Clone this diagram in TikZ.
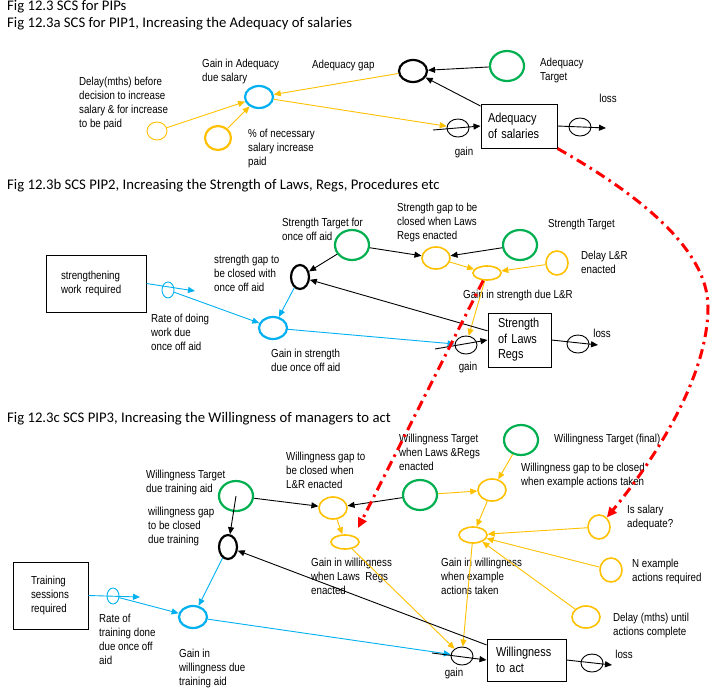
\documentclass[tikz,border=0pt]{standalone}
\usepackage{fontspec}
\setmainfont{Liberation Sans}
\newfontfamily\carlito{Carlito}
\newfontfamily\narrow[FakeStretch=0.84]{Liberation Sans}
\usetikzlibrary{shapes.geometric,arrows.meta}
\definecolor{cy}{HTML}{FFC000}
\definecolor{cb}{HTML}{00B0F0}
\definecolor{cg}{HTML}{00B050}
\definecolor{cr}{HTML}{FF0000}
\begin{document}
\begin{tikzpicture}[x=1pt,y=-1pt,
 lbl/.style={font=\narrow\fontsize{11.6}{14}\selectfont, align=left, anchor=north west, inner sep=0pt},
 sml/.style={font=\narrow\fontsize{11.6}{14}\selectfont, inner sep=0pt},
 ttl/.style={font=\carlito\fontsize{14.7}{16}\selectfont, anchor=base west, inner sep=0pt},
 boxs/.style={draw, line width=1pt, align=left, inner ysep=0pt},
 bigtxt/.style={font=\narrow\fontsize{13}{15.5}\selectfont},
 smtxt/.style={font=\narrow\fontsize{11.6}{14}\selectfont},
 ov/.style 2 args={ellipse, inner sep=0pt, minimum width=#1, minimum height=#2},
 thk/.style={draw, line width=2.2pt},
 med/.style={draw, line width=1.6pt},
 thn/.style={draw, line width=0.9pt},
 arr/.style={line width=0.9pt, -{Triangle[length=7pt,width=6pt]}},
 yarr/.style={arr, draw=cy},
 barr/.style={arr, draw=cb},
 redlink/.style={draw=cr, line width=3pt, dash pattern=on 10pt off 5pt on 2.5pt off 5pt, -{Triangle[length=10pt,width=9pt]}}
]
\useasboundingbox (0,0) rectangle (715,696);

% ---------- titles
\node[ttl] (t0) at (7,10.5) {Fig 12.3 SCS for PIPs};
\node[ttl] (t1) at (7,27.5) {Fig 12.3a SCS for PIP1, Increasing the Adequacy of salaries};
\node[ttl] (t2) at (7,189) {Fig 12.3b SCS PIP2, Increasing the Strength of Laws, Regs, Procedures etc};
\node[ttl] (t3) at (7,422.5) {Fig 12.3c SCS PIP3, Increasing the Willingness of managers to act};

% ---------- section a
\node[ov={20pt}{18pt}, thn, draw=cy] (delayA) at (157,131) {};
\node[ov={26pt}{24pt}, thk, draw=cy] (pctA) at (218,138) {};
\node[ov={28pt}{22pt}, thk, draw=cb] (gainA) at (259,97) {};
\node[ov={28pt}{22pt}, thk, draw=black] (gapA) at (413,71) {};
\node[ov={34pt}{30pt}, thk, draw=cg] (tgtA) at (507,66) {};
\node[boxs, bigtxt, minimum width=76pt, minimum height=44pt, text width=62pt, inner xsep=7pt] (boxA) at (519,126) {Adequacy\\of salaries};
\node[ov={22pt}{18pt}, thn] (gainFA) at (458,128) {};
\node[ov={22pt}{18pt}, thn] (lossFA) at (580,127) {};
\coordinate (ga0) at (433,130);
\coordinate (la1) at (606,128);

\node[lbl] (lDelayA) at (79,77) {Delay(mths) before\\decision to increase\\salary \& for increase\\to be paid};
\node[lbl] (lGainA) at (202,59) {Gain in Adequacy\\due salary};
\node[lbl] (lPct) at (248,129) {\% of necessary\\salary increase\\paid};
\node[lbl] (lGapA) at (312,60) {Adequacy gap};
\node[lbl] (lTgtA) at (540,58) {Adequacy\\Target};
\node[sml] (lgA) at (464,152) {gain};
\node[sml] (llA) at (608,98) {loss};

\draw[arr] (tgtA) -- (gapA);
\draw[arr] (boxA) -- (gapA);
\draw[yarr] (gapA) -- (gainA);
\draw[yarr] (gainA) -- (gainFA);
\draw[yarr] (delayA) -- (gainA);
\draw[yarr] (pctA) -- (gainA);
\draw[arr] (ga0) -- (boxA.west);
\draw[arr] (boxA.east) -- (la1);

% ---------- section b
\node[boxs, smtxt, minimum width=100pt, minimum height=57pt, text width=70pt, inner xsep=15pt] (sbox) at (96,283.5) {strengthening\\work required};
\node[ov={12pt}{16pt}, thn, draw=cb] (rateB) at (168,290) {};
\node[ov={28pt}{22pt}, thk, draw=cb] (gainB1) at (273,328) {};
\node[ov={18pt}{24pt}, thk, draw=black] (gapB1) at (300,277) {};
\node[ov={34pt}{30pt}, thk, draw=cg] (tgtB1) at (352,245) {};
\node[ov={28pt}{22pt}, med, draw=cy] (gapB2) at (436,258) {};
\node[ov={34pt}{30pt}, thk, draw=cg] (tgtB2) at (520,245) {};
\node[ov={28pt}{14pt}, med, draw=cy] (gainB2) at (487,273) {};
\node[ov={22pt}{24pt}, med, draw=cy] (delayB) at (557,263) {};
\node[boxs, bigtxt, minimum width=63pt, minimum height=54pt, text width=43pt, inner xsep=10pt] (boxB) at (519.5,340) {Strength\\of Laws\\Regs};
\node[ov={22pt}{18pt}, thn] (gainFB) at (466,345) {};
\node[ov={22pt}{18pt}, thn] (lossFB) at (578,344) {};
\coordinate (rb1) at (195,291);
\coordinate (gb0) at (435,349);
\coordinate (lb1) at (598,345);

\node[lbl] (lRateB) at (151,314) {Rate of doing\\work due\\once off aid};
\node[lbl] (lGainB1) at (271,349) {Gain in strength\\due once off aid};
\node[lbl] (lGapB1) at (214,255) {strength gap to\\be closed with\\once off aid};
\node[lbl] (lTgtB1) at (282,218) {Strength Target for\\once off aid};
\node[lbl] (lGapB2) at (397,203) {Strength gap to be\\closed when Laws\\Regs enacted};
\node[lbl] (lTgtB2) at (548,219) {Strength Target};
\node[lbl] (lGainB2) at (463,290) {Gain in strength due L\&R};
\node[lbl] (lDelayB) at (581,251) {Delay L\&R\\enacted};
\node[sml] (lgB) at (468,367) {gain};
\node[sml] (llB) at (602,333) {loss};

\draw[barr] (sbox.east) -- (rb1);
\draw[barr] (rateB) -- (gainB1);
\draw[barr] (gapB1) -- (gainB1);
\draw[arr] (tgtB1) -- (gapB1);
\draw[arr] (tgtB1) -- (gapB2);
\draw[arr] (tgtB2) -- (gapB2);
\draw[yarr] (gapB2) -- (gainB2);
\draw[yarr] (delayB) -- (gainB2);
\draw[yarr] (gainB2) -- (gainFB);
\draw[arr] (boxB) -- (gapB1);
\draw[barr] (gainB1) -- (gainFB);
\draw[arr] (gb0) -- (boxB.west);
\draw[arr] (boxB.east) -- (lb1);

% ---------- section c
\node[boxs, smtxt, minimum width=75pt, minimum height=67pt, text width=39pt, inner xsep=18pt] (tbox) at (50.5,595.5) {Training\\sessions\\required};
\node[ov={12pt}{16pt}, thn, draw=cb] (rateC) at (113,596) {};
\node[ov={28pt}{22pt}, thk, draw=cb] (gainC1) at (193,617) {};
\node[ov={18pt}{24pt}, thk, draw=black] (gapC1) at (228,547) {};
\node[ov={34pt}{30pt}, thk, draw=cg] (tgtC1) at (236,496) {};
\node[ov={28pt}{22pt}, med, draw=cy] (gapC2) at (333,508) {};
\node[ov={34pt}{30pt}, thk, draw=cg] (tgtC2) at (420,495) {};
\node[ov={28pt}{14pt}, med, draw=cy] (gainC2) at (345,542) {};
\node[ov={34pt}{30pt}, thk, draw=cg] (tgtC3) at (521,440) {};
\node[ov={28pt}{22pt}, med, draw=cy] (gapC3) at (492,490) {};
\node[ov={28pt}{16pt}, med, draw=cy] (gainC3) at (473,535) {};
\node[ov={22pt}{24pt}, med, draw=cy] (isSal) at (599,527) {};
\node[ov={22pt}{24pt}, med, draw=cy] (nEx) at (611,570) {};
\node[ov={28pt}{22pt}, med, draw=cy] (delC) at (586,617) {};
\node[boxs, bigtxt, minimum width=79pt, minimum height=42pt, text width=61pt, inner xsep=9pt] (boxC) at (526.5,660) {Willingness\\to act};
\node[ov={22pt}{18pt}, thn] (gainFC) at (462,656) {};
\node[ov={22pt}{18pt}, thn] (lossFC) at (592,663) {};
\coordinate (rc1) at (140,597);
\coordinate (gc0) at (432,653);
\coordinate (lc1) at (612,665);

\node[lbl] (lRateC) at (99,614) {Rate of\\training done\\due once off\\aid};
\node[lbl] (lGainC1) at (179,649) {Gain in\\willingness due\\training aid};
\node[lbl] (lGapC1) at (148,507) {willingness gap\\to be closed\\due training};
\node[lbl] (lTgtC1) at (146,470) {Willingness Target\\due training aid};
\node[lbl] (lGapC2) at (286,452) {Willingness gap to\\be closed when\\L\&R enacted};
\node[lbl] (lTgtC2) at (399,434) {Willingness Target\\when Laws \&Regs\\enacted};
\node[lbl] (lGainC2) at (311,558) {Gain in willingness\\when Laws\ \ Regs\\enacted};
\node[lbl] (lTgtC3) at (554,434) {Willingness Target (final)};
\node[lbl] (lGapC3) at (521,463) {Willingness gap to be closed\\when example actions taken};
\node[lbl] (lGainC3) at (441,558) {Gain in willingness\\when example\\actions taken};
\node[lbl] (lIsSal) at (627,505) {Is salary\\adequate?};
\node[lbl] (lNex) at (632,559) {N example\\actions required};
\node[lbl] (lDelC) at (613,613) {Delay (mths) until\\actions complete};
\node[sml] (lgC) at (454,673) {gain};
\node[sml] (llC) at (624,654) {loss};

\draw[barr] (tbox.east) -- (rc1);
\draw[barr] (rateC) -- (gainC1);
\draw[barr] (gapC1) -- (gainC1);
\draw[arr] (tgtC1.center) -- (gapC1);
\draw[arr] (tgtC1) -- (gapC2);
\draw[arr] (tgtC2) -- (gapC2);
\draw[yarr] (tgtC2) -- (gapC3);
\draw[yarr] (gapC2) -- (gainC2);
\draw[yarr] (gainC2) -- (gainFC);
\draw[yarr] (tgtC3) -- (gapC3);
\draw[yarr] (gapC3) -- (gainC3);
\draw[yarr] (gainC3) -- (gainFC);
\draw[yarr] (isSal) -- (gainC3);
\draw[yarr] (nEx) -- (gainC3);
\draw[yarr] (delC) -- (gainC3);
\draw[arr] (boxC) -- (gapC1);
\draw[barr] (gainC1) -- (gainFC);
\draw[arr] (gc0) -- (boxC.west);
\draw[arr] (boxC.east) -- (lc1);

% ---------- red links
\coordinate (r2) at (358,528);
\draw[redlink] (boxA.south east) .. controls (640,195) and (708,250) .. (708,307) .. controls (708,380) and (650,465) .. (isSal);
\draw[redlink] (gainB2) -- (r2);
\end{tikzpicture}
\end{document}
